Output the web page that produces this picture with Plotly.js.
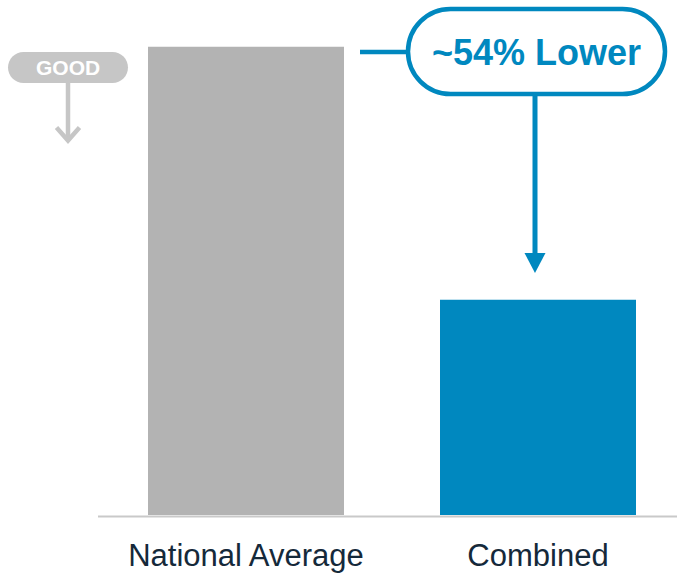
<!DOCTYPE html>
<html>
<head>
<meta charset="utf-8">
<script src="https://cdn.plot.ly/plotly-3.0.1.min.js"></script>
<style>html,body{margin:0;padding:0;background:#fff;}#chart{width:677px;height:575px;}</style>
</head>
<body>
<div id="chart"></div>
<script>
// ---- data ----
const categories = ['National Average', 'Combined'];
const values = [100, 46];
const barColors = ['#b3b3b3', '#0088bf'];
const calloutText = '~54% Lower';
const goodText = 'GOOD';

// ---- layout helpers (pixel -> paper) ----
const W = 677, H = 575, MB = 60, PH = H - MB;
const fx = p => p / W;
const fy = p => (PH - p) / PH;
const P = (x, y) => fx(x) + ',' + fy(y);

function pill(L, R, T, B) {
  const r = (B - T) / 2, cy = (T + B) / 2, k = 0.5523 * r;
  return 'M' + P(L + r, T) + ' L' + P(R - r, T) +
    ' C' + P(R - r + k, T) + ' ' + P(R, cy - k) + ' ' + P(R, cy) +
    ' C' + P(R, cy + k) + ' ' + P(R - r + k, B) + ' ' + P(R - r, B) +
    ' L' + P(L + r, B) +
    ' C' + P(L + r - k, B) + ' ' + P(L, cy + k) + ' ' + P(L, cy) +
    ' C' + P(L, cy - k) + ' ' + P(L + r - k, T) + ' ' + P(L + r, T) + ' Z';
}

const blue = barColors[1];
const lightGray = '#c6c6c6';
const font = '"Liberation Sans", Arial, Helvetica, sans-serif';

const trace = {
  type: 'bar',
  x: categories,
  y: values,
  marker: { color: barColors, line: { width: 0 } },
  hoverinfo: 'skip'
};

const shapes = [
  // baseline
  { type: 'line', xref: 'paper', yref: 'paper', x0: fx(98), x1: 1, y0: fy(516.5), y1: fy(516.5),
    line: { color: '#c9c9c9', width: 2 } },
  // callout connector
  { type: 'line', xref: 'paper', yref: 'paper', x0: fx(360), x1: fx(408), y0: fy(52), y1: fy(52),
    line: { color: blue, width: 4.5 } },
  // callout pill
  { type: 'path', xref: 'paper', yref: 'paper', path: pill(408, 665, 9, 94),
    fillcolor: '#ffffff', line: { color: blue, width: 4.5 } },
  // down arrow shaft
  { type: 'line', xref: 'paper', yref: 'paper', x0: fx(535), x1: fx(535), y0: fy(96), y1: fy(256),
    line: { color: blue, width: 5 } },
  // arrow head
  { type: 'path', xref: 'paper', yref: 'paper',
    path: 'M' + P(524.5, 253) + ' L' + P(545.5, 253) + ' L' + P(535, 273) + ' Z',
    fillcolor: blue, line: { width: 0 } },
  // GOOD pill
  { type: 'path', xref: 'paper', yref: 'paper', path: pill(8, 128, 52, 83),
    fillcolor: lightGray, line: { width: 0 } },
  // GOOD arrow shaft
  { type: 'line', xref: 'paper', yref: 'paper', x0: fx(68), x1: fx(68), y0: fy(82), y1: fy(140),
    line: { color: lightGray, width: 4.5 } },
  // GOOD chevron
  { type: 'path', xref: 'paper', yref: 'paper',
    path: 'M' + P(56.5, 127.5) + ' L' + P(68, 140.5) + ' L' + P(79.5, 127.5),
    line: { color: lightGray, width: 4.5 } }
];

const annotations = [
  { xref: 'paper', yref: 'paper', x: fx(536.5), y: fy(52), text: calloutText, showarrow: false,
    xanchor: 'center', yanchor: 'middle',
    font: { family: font, size: 36, color: blue, weight: 700 } },
  { xref: 'paper', yref: 'paper', x: fx(68), y: fy(68), text: goodText, showarrow: false,
    xanchor: 'center', yanchor: 'middle',
    font: { family: font, size: 21, color: '#ffffff', weight: 700 } }
];

const layout = {
  width: W, height: H,
  margin: { l: 0, r: 0, t: 0, b: MB, pad: 0 },
  paper_bgcolor: '#ffffff', plot_bgcolor: '#ffffff',
  showlegend: false,
  bargap: 1 - 196 / 292,
  xaxis: {
    type: 'category',
    range: [-246 / 292, 431 / 292],
    showgrid: false, zeroline: false, showline: false, ticks: '',
    tickfont: { family: font, size: 31, color: '#15293a' },
    ticklabelstandoff: 19
  },
  yaxis: {
    range: [0, 110],
    visible: false, showgrid: false, zeroline: false
  },
  shapes: shapes,
  annotations: annotations,
  font: { family: font }
};

Plotly.newPlot('chart', [trace], layout, { displayModeBar: false, staticPlot: true });
</script>
</body>
</html>
